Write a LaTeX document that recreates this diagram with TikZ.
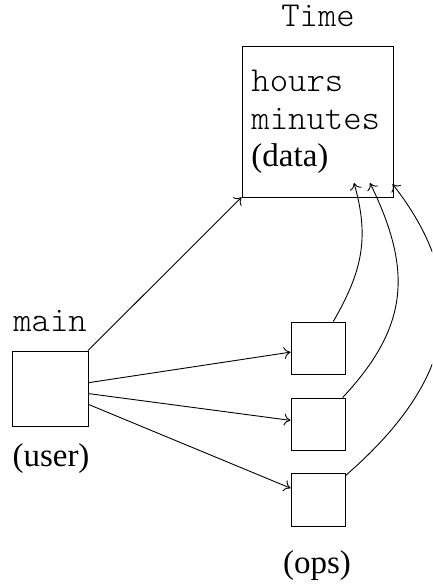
\documentclass[tikz,border=0pt]{standalone}
\usepackage{fontspec}
\usetikzlibrary{arrows.meta}
\setmainfont{Liberation Serif}
\setmonofont{Latin Modern Mono Light}
\begin{document}
\begin{tikzpicture}[x=1bp,y=-1bp, line width=0.9bp, >={To[length=6.5bp,width=12bp]},
  box/.style={draw, rectangle, inner sep=0pt},
  mono/.style={font=\fontsize{35bp}{42bp}\selectfont\ttfamily, inner sep=0pt},
  serif/.style={font=\fontsize{33bp}{40bp}\selectfont, inner sep=0pt}]
\useasboundingbox (0,0) rectangle (432,585);
\clip (0,0) rectangle (432,585);
% boxes
\node[box, minimum width=151bp, minimum height=151bp] (time) at (317.5,121.5) {};
\node[box, minimum width=76bp, minimum height=75bp] (main) at (50,388.5) {};
\node[box, minimum width=54bp, minimum height=52bp] (op1) at (318,348) {};
\node[box, minimum width=54bp, minimum height=52bp] (op2) at (318,424) {};
\node[box, minimum width=54bp, minimum height=53bp] (op3) at (318,499.5) {};
% labels
\node[mono, anchor=base] (timelbl) at (318,27) {Time};
\node[mono, anchor=base west] (hours) at (251,92) {hours};
\node[mono, anchor=base west] (minutes) at (251,130) {minutes};
\node[serif, anchor=base west] (data) at (251,167) {(data)};
\node[mono, anchor=base] (mainlbl) at (50,331) {main};
\node[serif, anchor=base] (user) at (51,466.5) {(user)};
\node[serif, anchor=base] (ops) at (317,573) {(ops)};
% targets inside Time
\coordinate (t1) at (354,183);
\coordinate (t2) at (370,183);
\coordinate (t3) at (392.5,184);
% straight arrows
\draw[->] (main) -- (time);
\draw[->] (main) -- (op1);
\draw[->] (main) -- (op2);
\draw[->] (main) -- (op3);
% curved arrows
\draw[->] (op1) to[out=60, in=-74, looseness=1.05] (t1);
\draw[->] (op2) to[out=47, in=-64, looseness=1.15] (t2);
\draw[->] (op3) to[out=41, in=-52, looseness=1.2] (t3);
\end{tikzpicture}
\end{document}
